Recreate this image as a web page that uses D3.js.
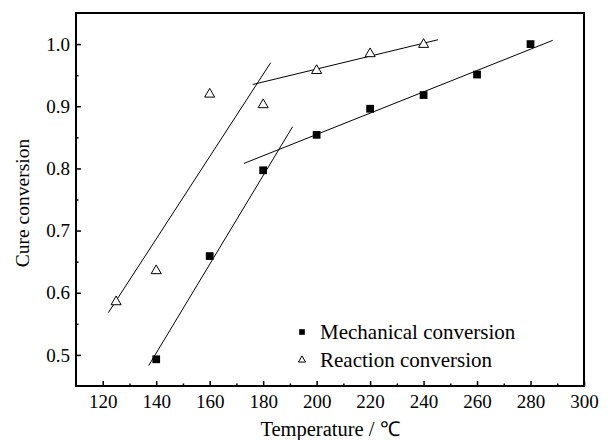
<!DOCTYPE html>
<html>
<head>
<meta charset="utf-8">
<script src="https://cdn.jsdelivr.net/npm/d3@7"></script>
<style>
  body { margin: 0; background: #fff; }
  text { font-family: "Liberation Serif", "Times New Roman", serif; fill: #000; }
</style>
</head>
<body>
<script>
// Width and height
var w = 611;
var h = 440;
var margin = {left: 76, right: 27, top: 13, bottom: 54};

// data
const mechTemp = [140, 160, 180, 200, 220, 240, 260, 280];
const mechConv = [0.493, 0.659, 0.797, 0.854, 0.896, 0.918, 0.951, 1.000];
const reactTemp = [125, 140, 160, 180, 200, 220, 240];
const reactConv = [0.587, 0.637, 0.921, 0.904, 0.959, 0.986, 1.001];

// straight fit segments [temp, conversion]
const reactFitLow = [[122.1, 0.568], [182.8, 0.970]];
const reactFitHigh = [[176.1, 0.935], [245.4, 1.007]];
const mechFitLow = [[137.2, 0.483], [191.0, 0.867]];
const mechFitHigh = [[172.8, 0.808], [288.3, 1.006]];

const xTicks = [120, 140, 160, 180, 200, 220, 240, 260, 280, 300];
const xMinor = [130, 150, 170, 190, 210, 230, 250, 270, 290];
const yTicks = [0.5, 0.6, 0.7, 0.8, 0.9, 1.0];
const yMinor = [0.55, 0.65, 0.75, 0.85, 0.95];

const legendLabels = ["Mechanical conversion", "Reaction conversion"];

// scales
const xScale = d3.scaleLinear()
                .domain([110, 300])
                .range([margin.left, w - margin.right]);

const yScale = d3.scaleLinear()
                .domain([0.45, 1.05])
                .range([h - margin.bottom, margin.top]);

const svg = d3.select("body")
              .append("svg")
                .attr("width", w)
                .attr("height", h);

// axes, ticks pointing inward
const xAxis = d3.axisBottom(xScale)
                .tickValues(xTicks)
                .tickSizeInner(-5)
                .tickSizeOuter(0)
                .tickPadding(9)
                .tickFormat(d3.format("d"));

const xAxisMinor = d3.axisBottom(xScale)
                .tickValues(xMinor)
                .tickSizeInner(-2.5)
                .tickSizeOuter(0)
                .tickFormat("");

const yAxis = d3.axisLeft(yScale)
                .tickValues(yTicks)
                .tickSizeInner(-5)
                .tickSizeOuter(0)
                .tickPadding(6)
                .tickFormat(d3.format(".1f"));

const yAxisMinor = d3.axisLeft(yScale)
                .tickValues(yMinor)
                .tickSizeInner(-2.5)
                .tickSizeOuter(0)
                .tickFormat("");

svg.append("g")
  .attr("transform", `translate(0, ${h - margin.bottom})`)
  .call(xAxis);
svg.append("g")
  .attr("transform", `translate(0, ${h - margin.bottom})`)
  .call(xAxisMinor);
svg.append("g")
  .attr("transform", `translate(${margin.left}, 0)`)
  .call(yAxis);
svg.append("g")
  .attr("transform", `translate(${margin.left}, 0)`)
  .call(yAxisMinor);

svg.selectAll(".domain").remove();
svg.selectAll(".tick line").attr("stroke", "#000").attr("stroke-width", 1.5);
svg.selectAll(".tick text")
  .style("font-family", "'Liberation Serif', serif")
  .attr("font-size", 19)
  .attr("fill", "#000");

// frame
svg.append("rect")
  .attr("x", margin.left)
  .attr("y", margin.top)
  .attr("width", w - margin.left - margin.right)
  .attr("height", h - margin.top - margin.bottom)
  .attr("fill", "none")
  .attr("stroke", "#000")
  .attr("stroke-width", 2);

// fit lines
const line = d3.line()
  .x(d => xScale(d[0]))
  .y(d => yScale(d[1]));

[reactFitLow, reactFitHigh, mechFitLow, mechFitHigh].forEach(seg => {
  svg.append("path")
    .attr("d", line(seg))
    .attr("fill", "none")
    .attr("stroke", "#000")
    .attr("stroke-width", 1);
});

// markers
const square = d3.symbol().type(d3.symbolSquare).size(60);
const triangle = d3.symbol().type(d3.symbolTriangle).size(44);

svg.selectAll(".mech")
  .data(mechTemp)
  .enter()
  .append("path")
    .attr("d", square)
    .attr("transform", (d, i) => `translate(${xScale(d)}, ${yScale(mechConv[i])})`)
    .attr("fill", "#000");

svg.selectAll(".react")
  .data(reactTemp)
  .enter()
  .append("path")
    .attr("d", triangle)
    .attr("transform", (d, i) => `translate(${xScale(d)}, ${yScale(reactConv[i]) + 1})`)
    .attr("fill", "#fff")
    .attr("stroke", "#000")
    .attr("stroke-width", 1);

// legend
const legend = svg.append("g").attr("transform", "translate(302, 332)");
legend.append("path")
  .attr("d", d3.symbol().type(d3.symbolSquare).size(32))
  .attr("fill", "#000");
legend.append("path")
  .attr("d", d3.symbol().type(d3.symbolTriangle).size(22))
  .attr("transform", "translate(0, 28)")
  .attr("fill", "#fff")
  .attr("stroke", "#000");
legend.selectAll("text")
  .data(legendLabels)
  .enter()
  .append("text")
    .attr("x", 18)
    .attr("y", (d, i) => 7 + i * 28)
    .attr("font-size", 21)
    .text(d => d);

// axis titles
svg.append("text")
  .attr("x", (margin.left + w - margin.right) / 2)
  .attr("y", 436)
  .attr("text-anchor", "middle")
  .attr("font-size", 20.5)
  .text("Temperature / ℃");

svg.append("text")
  .attr("transform", `translate(29, 203) rotate(-90)`)
  .attr("text-anchor", "middle")
  .attr("font-size", 19.5)
  .text("Cure conversion");
</script>
</body>
</html>
